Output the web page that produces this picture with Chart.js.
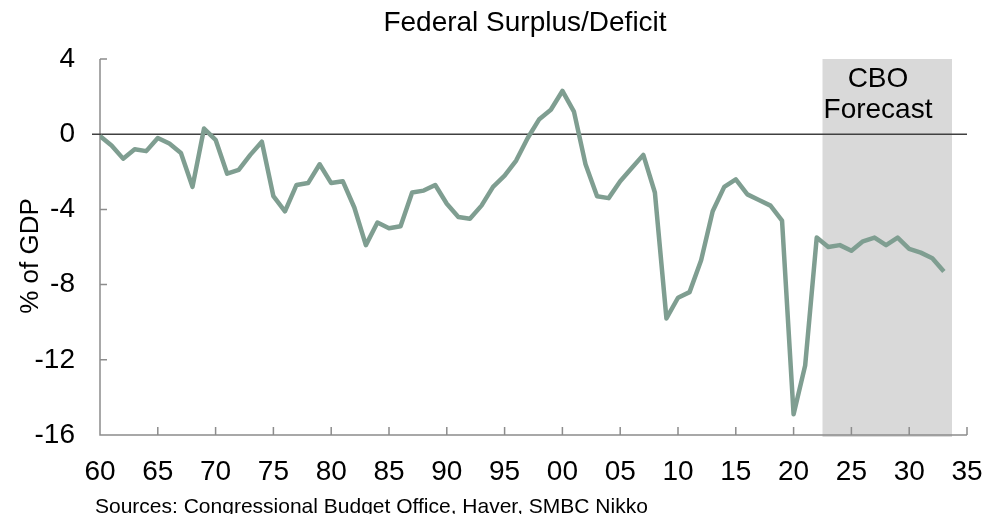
<!DOCTYPE html>
<html>
<head>
<meta charset="utf-8">
<script src="https://cdn.jsdelivr.net/npm/chart.js@4.4.1/dist/chart.umd.min.js"></script>
<style>
html, body { margin: 0; padding: 0; background: #fff; }
</style>
</head>
<body>
<canvas id="deficit-chart" width="982" height="514"></canvas>
<script>
// fiscal years
var years = [1960,1961,1962,1963,1964,1965,1966,1967,1968,1969,
             1970,1971,1972,1973,1974,1975,1976,1977,1978,1979,
             1980,1981,1982,1983,1984,1985,1986,1987,1988,1989,
             1990,1991,1992,1993,1994,1995,1996,1997,1998,1999,
             2000,2001,2002,2003,2004,2005,2006,2007,2008,2009,
             2010,2011,2012,2013,2014,2015,2016,2017,2018,2019,
             2020,2021,2022,2023,2024,2025,2026,2027,2028,2029,
             2030,2031,2032,2033];

// surplus (+) / deficit (-), % of GDP
var balance = [-0.1,-0.6,-1.3,-0.8,-0.9,-0.2,-0.5,-1.0,-2.8,0.3,
               -0.3,-2.1,-1.9,-1.1,-0.4,-3.3,-4.1,-2.7,-2.6,-1.6,
               -2.6,-2.5,-3.9,-5.9,-4.7,-5.0,-4.9,-3.1,-3.0,-2.7,
               -3.7,-4.4,-4.5,-3.8,-2.8,-2.2,-1.4,-0.2,0.8,1.3,
               2.3,1.2,-1.6,-3.3,-3.4,-2.5,-1.8,-1.1,-3.1,-9.8,
               -8.7,-8.4,-6.7,-4.1,-2.8,-2.4,-3.2,-3.5,-3.8,-4.6,
               -14.9,-12.3,-5.5,-6.0,-5.9,-6.2,-5.7,-5.5,-5.9,-5.5,
               -6.1,-6.3,-6.6,-7.3];

var xTickLabels = ['60','65','70','75','80','85','90','95','00','05','10','15','20','25','30','35'];

var forecastStart = 2022.5;
var forecastEnd = 2033.7;

var FONT = "'Liberation Sans', Arial, sans-serif";

var points = [];
for (var i = 0; i < years.length; i++) {
    points.push({x: years[i], y: balance[i]});
}

var decor = {
    id: 'decor',
    beforeDatasetsDraw: function (chart) {
        var ctx = chart.ctx;
        var a = chart.chartArea;
        var xs = chart.scales.x;
        var ys = chart.scales.y;
        ctx.save();

        // CBO forecast shading
        var x1 = xs.getPixelForValue(forecastStart);
        var x2 = xs.getPixelForValue(forecastEnd);
        ctx.fillStyle = '#d9d9d9';
        ctx.fillRect(x1, a.top, x2 - x1, a.bottom - a.top + 2);

        // axes
        ctx.strokeStyle = '#8c8c8c';
        ctx.lineWidth = 1.5;
        ctx.beginPath();
        ctx.moveTo(a.left, a.top);
        ctx.lineTo(a.left, a.bottom);
        ctx.lineTo(a.right, a.bottom);
        // y ticks (inside)
        ys.ticks.forEach(function (t) {
            if (t.value === 0 || t.value === ys.min) return;
            var py = ys.getPixelForValue(t.value);
            ctx.moveTo(a.left, py);
            ctx.lineTo(a.left + 7, py);
        });
        // x ticks (inside)
        xs.ticks.forEach(function (t) {
            if (t.value === xs.min) return;
            var px = xs.getPixelForValue(t.value);
            ctx.moveTo(px, a.bottom);
            ctx.lineTo(px, a.bottom - 8);
        });
        ctx.stroke();

        // zero line
        var y0 = ys.getPixelForValue(0);
        ctx.strokeStyle = '#404040';
        ctx.lineWidth = 1.5;
        ctx.beginPath();
        ctx.moveTo(a.left - 8, y0);
        ctx.lineTo(a.right, y0);
        ctx.stroke();

        // forecast label
        ctx.fillStyle = '#000';
        ctx.font = '28px ' + FONT;
        ctx.textAlign = 'center';
        ctx.textBaseline = 'middle';
        var cx = xs.getPixelForValue(2027.3);
        ctx.fillText('CBO', cx, 79);
        ctx.fillText('Forecast', cx, 110);
        ctx.restore();
    },
    afterDraw: function (chart) {
        var ctx = chart.ctx;
        ctx.save();
        ctx.fillStyle = '#000';
        ctx.textBaseline = 'middle';

        ctx.font = '28px ' + FONT;
        ctx.textAlign = 'center';
        ctx.fillText('Federal Surplus/Deficit', 525, 23);

        ctx.save();
        ctx.translate(31, 256);
        ctx.rotate(-Math.PI / 2);
        ctx.font = '26px ' + FONT;
        ctx.fillText('% of GDP', 0, 0);
        ctx.restore();

        ctx.font = '21px ' + FONT;
        ctx.textAlign = 'left';
        ctx.textBaseline = 'alphabetic';
        ctx.fillText('Sources: Congressional Budget Office, Haver, SMBC Nikko', 95, 513);
        ctx.restore();
    }
};

var chart = new Chart(document.getElementById('deficit-chart').getContext('2d'), {
    type: 'line',
    data: {
        datasets: [{
            data: points,
            borderColor: '#7f9e91',
            borderWidth: 4.5,
            borderJoinStyle: 'round',
            pointRadius: 0,
            tension: 0,
            fill: false
        }]
    },
    options: {
        responsive: false,
        animation: false,
        devicePixelRatio: 1,
        layout: { padding: { left: 0, right: 15, top: 59, bottom: 0 } },
        plugins: {
            legend: { display: false },
            title: { display: false },
            tooltip: { enabled: false }
        },
        scales: {
            x: {
                type: 'linear',
                min: 1960,
                max: 2035,
                grid: { display: false, drawTicks: false },
                border: { display: false },
                ticks: {
                    stepSize: 5,
                    autoSkip: false,
                    maxRotation: 0,
                    padding: 20,
                    color: '#000',
                    font: { family: FONT, size: 28 },
                    callback: function (v) { return xTickLabels[Math.round((v - 1960) / 5)]; }
                },
                afterFit: function (s) {
                    s.height = 79;
                    s.paddingLeft = 0;
                    s.paddingRight = 0;
                }
            },
            y: {
                min: -16,
                max: 4,
                grid: { display: false, drawTicks: false },
                border: { display: false },
                ticks: {
                    stepSize: 4,
                    padding: 25,
                    color: '#000',
                    font: { family: FONT, size: 28 }
                },
                afterFit: function (s) {
                    s.width = 100;
                    s.paddingTop = 0;
                    s.paddingBottom = 0;
                }
            }
        }
    },
    plugins: [decor]
});
</script>
</body>
</html>
